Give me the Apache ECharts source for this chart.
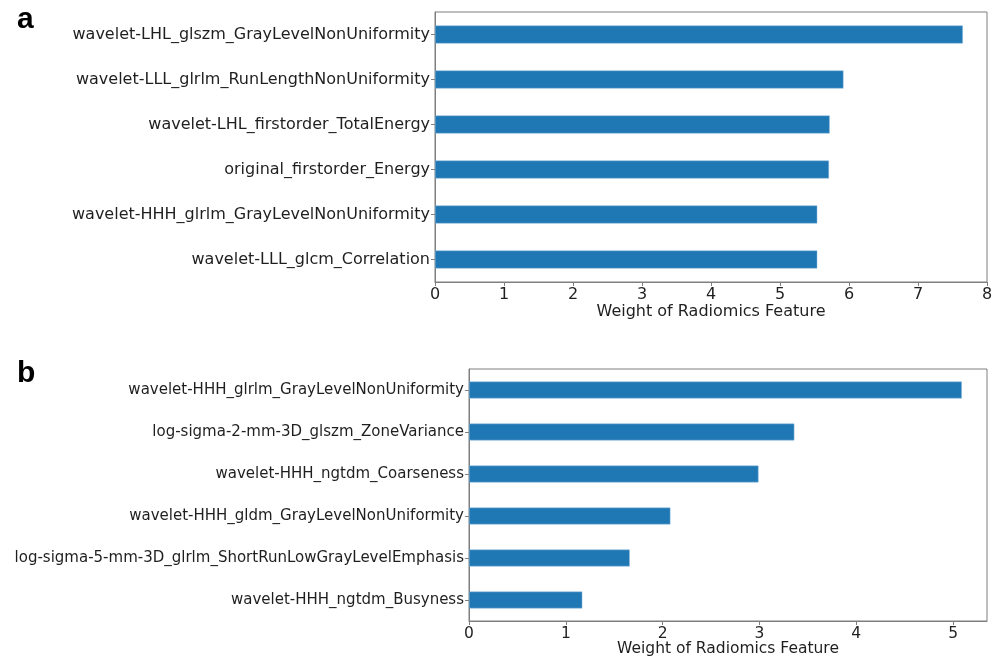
<!DOCTYPE html>
<html>
<head>
<meta charset="utf-8">
<script src="https://cdn.jsdelivr.net/npm/echarts@6/dist/echarts.min.js"></script>
<style>html,body{margin:0;padding:0;background:#fff}#c{width:1000px;height:657px}</style>
</head>
<body>
<div id="c"></div>
<script>
const catsA = [
  "wavelet-LHL_glszm_GrayLevelNonUniformity",
  "wavelet-LLL_glrlm_RunLengthNonUniformity",
  "wavelet-LHL_firstorder_TotalEnergy",
  "original_firstorder_Energy",
  "wavelet-HHH_glrlm_GrayLevelNonUniformity",
  "wavelet-LLL_glcm_Correlation"
];
const valsA = [7.65, 5.92, 5.72, 5.71, 5.54, 5.54];
const catsB = [
  "wavelet-HHH_glrlm_GrayLevelNonUniformity",
  "log-sigma-2-mm-3D_glszm_ZoneVariance",
  "wavelet-HHH_ngtdm_Coarseness",
  "wavelet-HHH_gldm_GrayLevelNonUniformity",
  "log-sigma-5-mm-3D_glrlm_ShortRunLowGrayLevelEmphasis",
  "wavelet-HHH_ngtdm_Busyness"
];
const valsB = [5.09, 3.36, 2.99, 2.08, 1.66, 1.17];
const xTitle = "Weight of Radiomics Feature";
const panelLabels = ["a", "b"];

const font = "DejaVu Sans";
const frame = "#7f7f7f";
const txt = "#1f1f1f";

function xAxis(idx, max, fs, gap) {
  return {
    type: 'value', gridIndex: idx, min: 0, max: max, interval: 1,
    name: xTitle, nameLocation: 'middle', nameGap: gap, nameMoveOverlap: false,
    nameTextStyle: {fontFamily: font, fontSize: fs, color: txt},
    axisLine: {show: true, lineStyle: {color: frame, width: 1}},
    axisTick: {show: true, length: 4, lineStyle: {color: frame}},
    axisLabel: {fontFamily: font, fontSize: fs, color: txt, margin: 5, showMaxLabel: max % 1 === 0},
    splitLine: {show: false}
  };
}
function yAxis(idx, cats, fs) {
  return {
    type: 'category', gridIndex: idx, data: cats, inverse: true,
    axisLine: {show: true, lineStyle: {color: frame, width: 1}},
    axisTick: {show: true, length: 4, alignWithLabel: true, lineStyle: {color: frame}},
    axisLabel: {fontFamily: font, fontSize: fs, color: txt, margin: 5}
  };
}

const chart = echarts.init(document.getElementById('c'), null, {renderer: 'canvas'});
chart.setOption({
  animation: false,
  backgroundColor: '#fff',
  title: [
    {text: panelLabels[0], left: 12, top: 0, textStyle: {fontFamily: 'Liberation Sans', fontWeight: 'bold', fontSize: 30, color: '#000'}},
    {text: panelLabels[1], left: 12, top: 354, textStyle: {fontFamily: 'Liberation Sans', fontWeight: 'bold', fontSize: 30, color: '#000'}}
  ],
  grid: [
    {left: 435, right: 13, top: 12, height: 270, outerBoundsMode: 'none', containLabel: false, show: true, borderColor: frame, borderWidth: 1, backgroundColor: 'transparent'},
    {left: 469, right: 13, top: 369, height: 252, outerBoundsMode: 'none', containLabel: false, show: true, borderColor: frame, borderWidth: 1, backgroundColor: 'transparent'}
  ],
  xAxis: [xAxis(0, 8, 16, 22), xAxis(1, 5.35, 15.5, 20)],
  yAxis: [yAxis(0, catsA, 16), yAxis(1, catsB, 15)],
  series: [
    {type: 'bar', xAxisIndex: 0, yAxisIndex: 0, data: valsA, barWidth: '40%',
     itemStyle: {color: '#1f77b4', borderColor: '#8fbbdd', borderWidth: 0.5}},
    {type: 'bar', xAxisIndex: 1, yAxisIndex: 1, data: valsB, barWidth: '40%',
     itemStyle: {color: '#1f77b4', borderColor: '#8fbbdd', borderWidth: 0.5}}
  ]
});
</script>
</body>
</html>
